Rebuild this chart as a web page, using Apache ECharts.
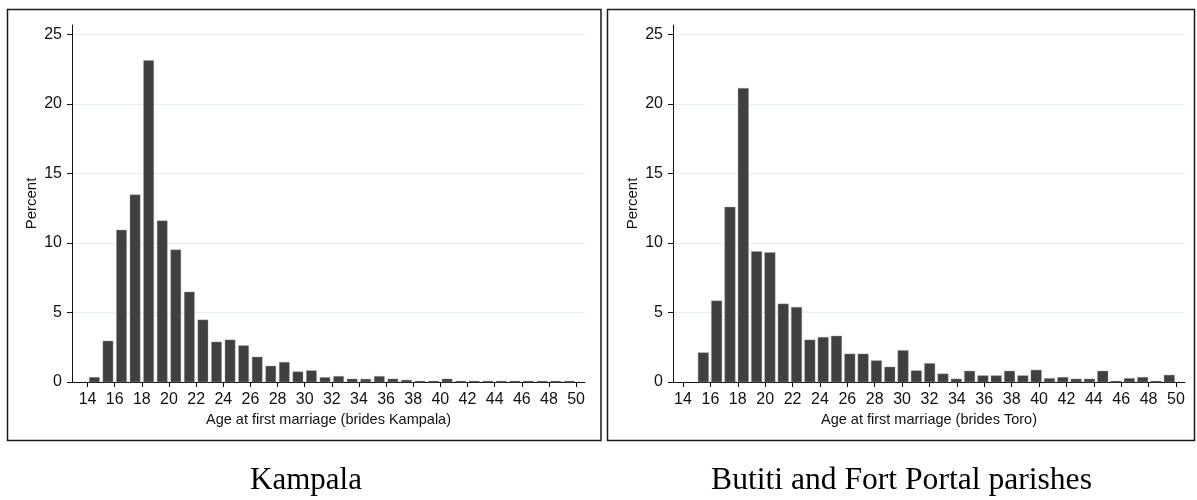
<!DOCTYPE html>
<html>
<head>
<meta charset="utf-8">
<script src="https://cdn.jsdelivr.net/npm/echarts@6/dist/echarts.min.js"></script>
<style>
  html, body { margin: 0; padding: 0; background: #fff; }
  #chart { width: 1197px; height: 500px; }
</style>
</head>
<body>
<div id="chart"></div>
<script>
// Kampala: one-year bins starting at 14
var kampalaBinStart = 14;
var kampalaBinWidth = 1;
var kampalaPct = [0.34, 2.95, 10.93, 13.47, 23.13, 11.6, 9.51, 6.48, 4.47, 2.88,
  3.03, 2.62, 1.80, 1.15, 1.42, 0.74, 0.82, 0.33, 0.41, 0.22,
  0.21, 0.41, 0.22, 0.14, 0.07, 0.07, 0.22, 0.07, 0.07, 0.07,
  0.07, 0.07, 0.07, 0.07, 0.07, 0.07];

// Toro: 36 bins between 15 and 50
var toroBinStart = 15;
var toroBinWidth = 35 / 36;
var toroPct = [2.11, 5.84, 12.58, 21.13, 9.39, 9.32, 5.62, 5.38, 3.03, 3.22,
  3.31, 2.02, 2.02, 1.54, 1.08, 2.27, 0.82, 1.34, 0.59, 0.22,
  0.79, 0.46, 0.46, 0.79, 0.46, 0.86, 0.26, 0.34, 0.22, 0.22,
  0.79, 0.07, 0.26, 0.34, 0.07, 0.50];

var xTicks = [14, 16, 18, 20, 22, 24, 26, 28, 30, 32, 34, 36, 38, 40, 42, 44, 46, 48, 50];
var yTicks = [0, 5, 10, 15, 20, 25];

var xTitles = ['Age at first marriage (brides Kampala)', 'Age at first marriage (brides Toro)'];
var captions = ['Kampala', 'Butiti and Fort Portal parishes'];

function toBins(start, width, values) {
  return values.map(function (v, i) {
    return [start + i * width, start + (i + 1) * width, v];
  });
}

function barRenderer(fill) {
  return function (params, api) {
    var x0 = api.value(0), x1 = api.value(1), v = api.value(2);
    var pad = (x1 - x0) * (1 - fill) / 2;
    var p0 = api.coord([x0 + pad, v]);
    var p1 = api.coord([x1 - pad, 0]);
    return {
      type: 'rect',
      shape: { x: p0[0], y: p0[1], width: p1[0] - p0[0], height: p1[1] - p0[1] },
      style: { fill: '#404040', stroke: '#a0a0a0', lineWidth: 0.4 }
    };
  };
}

var sans = 'Liberation Sans, Arial, sans-serif';
var serif = 'Liberation Serif, Times New Roman, serif';

function makeX(idx, min) {
  return {
    type: 'value', gridIndex: idx, min: min, max: 50.66,
    name: xTitles[idx], nameLocation: 'middle', nameGap: 23,
    nameTextStyle: { fontFamily: sans, fontSize: 14.5, color: '#111' },
    axisLine: { show: true, onZero: false, lineStyle: { color: '#111', width: 1 } },
    axisTick: { show: true, length: 5, customValues: xTicks, lineStyle: { color: '#111' } },
    axisLabel: { customValues: xTicks, margin: 10, fontFamily: sans, fontSize: 16, color: '#111' },
    splitLine: { show: false }
  };
}

function makeY(idx) {
  return {
    type: 'value', gridIndex: idx, min: 0, max: 25.68,
    name: 'Percent', nameLocation: 'middle', nameGap: 33,
    nameTextStyle: { fontFamily: sans, fontSize: 15, color: '#111' },
    axisLine: { show: true, lineStyle: { color: '#111', width: 1 } },
    axisTick: { show: true, length: 5, customValues: yTicks, lineStyle: { color: '#111' } },
    axisLabel: { customValues: yTicks, margin: 10, fontFamily: sans, fontSize: 16, color: '#111' },
    splitLine: { show: true, lineStyle: { color: '#e6eff1', width: 1 } }
  };
}

var chart = echarts.init(document.getElementById('chart'));
var option = {
  backgroundColor: '#fff',
  animation: false,
  grid: [
    { left: 72, right: 612, top: 25, bottom: 118 },
    { left: 673, right: 12, top: 25, bottom: 118 }
  ],
  xAxis: [makeX(0, 12.85), makeX(1, 13.27)],
  yAxis: [makeY(0), makeY(1)],
  series: [
    {
      type: 'custom', xAxisIndex: 0, yAxisIndex: 0,
      renderItem: barRenderer(0.75),
      data: toBins(kampalaBinStart, kampalaBinWidth, kampalaPct)
    },
    {
      type: 'custom', xAxisIndex: 1, yAxisIndex: 1,
      renderItem: barRenderer(0.79),
      data: toBins(toroBinStart, toroBinWidth, toroPct)
    }
  ],
  graphic: [
    { type: 'rect', shape: { x: 7.5, y: 9.5, width: 593.5, height: 431 },
      style: { fill: null, stroke: '#1a1a1a', lineWidth: 1.5 }, z: 10 },
    { type: 'rect', shape: { x: 607.5, y: 9.5, width: 587, height: 431 },
      style: { fill: null, stroke: '#1a1a1a', lineWidth: 1.5 }, z: 10 },
    { type: 'text', x: 306, y: 481,
      style: { text: captions[0], fontFamily: serif, fontSize: 31,
        fill: '#000', textAlign: 'center', textVerticalAlign: 'middle' } },
    { type: 'text', x: 901.5, y: 481,
      style: { text: captions[1], fontFamily: serif, fontSize: 31.6,
        fill: '#000', textAlign: 'center', textVerticalAlign: 'middle' } }
  ]
};
chart.setOption(option);
</script>
</body>
</html>
